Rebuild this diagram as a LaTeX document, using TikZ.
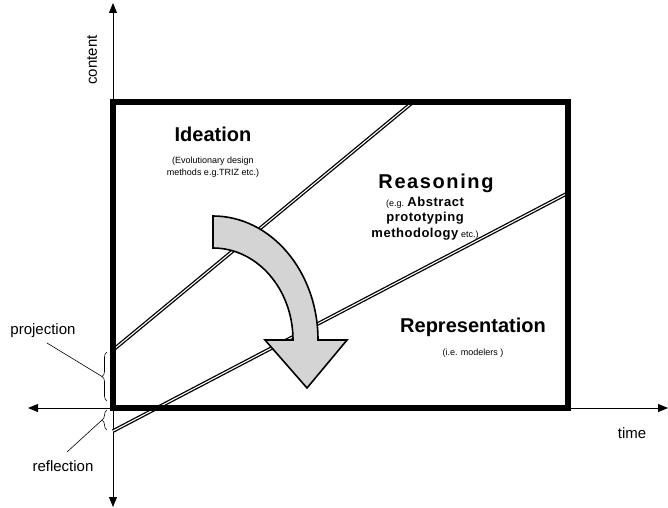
\documentclass[tikz,border=0pt]{standalone}
\usepackage{fontspec}
\setmainfont{Liberation Sans}
\usetikzlibrary{arrows.meta,decorations.pathreplacing}

\newcommand{\bigtext}{\fontsize{20}{24}\selectfont\bfseries}
\newcommand{\smalltext}{\fontsize{9}{13}\selectfont}
\newcommand{\boldsub}{\fontsize{13}{17}\selectfont\bfseries\addfontfeature{LetterSpace=4}}
\newcommand{\axistext}{\fontsize{15}{18}\selectfont}

\begin{document}
\begin{tikzpicture}[x=1pt, y=1pt,
    axis/.style={line width=0.9pt, -{Triangle[length=10pt,width=8pt]}},
    layer/.style={double, line width=1.3pt, double distance=1.1pt},
    bracket/.style={decorate, decoration={brace, amplitude=5pt}, line width=0.6pt},
    title/.style={align=center, inner sep=0pt}]
                \useasboundingbox (0,0) rectangle (668,507);
                % axes
                \coordinate (origin) at (113,99);
                \draw[axis] (origin) -- (113,504) coordinate (ytip);
                \draw[axis] (113,99) -- (113,0);
                \draw[axis] (origin) -- (668,99);
                \draw[axis] (origin) -- (28,99);
                \node[rotate=90, inner sep=0pt] (content) at (92,447) {\axistext content};
                \node[inner sep=0pt] (time) at (632,74) {\axistext time};
                % layer borders
                \draw[layer] (113,157) -- (413,405);
                \draw[layer] (113,76) -- (568,314);
                % frame
                \draw[line width=6pt] (113,99) rectangle (568,405);
                % braces
                \draw[bracket] (107,106) -- (107,155) coordinate[midway, xshift=-5pt] (projtip);
                \draw[bracket] (107,77) -- (107,97) coordinate[midway, xshift=-5pt] (refltip);
                \node[inner sep=0pt] (projection) at (43,176) {\axistext projection};
                \node[inner sep=0pt] (reflection) at (63,41) {\axistext reflection};
                \draw[line width=0.6pt] (47,164) -- (projtip);
                \draw[line width=0.6pt] (67,55) -- (refltip);
                % layer names
                \node[title] (ideation) at (213,373) {\bigtext Ideation};
                \node[title] (ideasub) at (213,340) {\smalltext (Evolutionary design\\ \smalltext methods e.g.TRIZ etc.)};
                \node[title] (reasoning) at (436,324) {\bigtext\addfontfeature{LetterSpace=8} Reasoning};
                \node[title] (reasonsub) at (425,288) {\smalltext (e.g. {\boldsub Abstract}\\[3pt]
                    {\boldsub prototyping}\\[3pt]
                    {\boldsub methodology} \smalltext etc.)};
                \node[title] (representation) at (473,180) {\bigtext Representation};
                \node[title] (represub) at (473,154) {\smalltext (i.e. modelers )};
                % curved arrow
                \filldraw[fill=black!17, line width=1.6pt, line join=miter]
                    (213,291) arc[start angle=90, end angle=0, x radius=105pt, y radius=124pt]
                    -- (347,167) -- (307,119) -- (265,167) -- (293,167)
                    arc[start angle=0, end angle=90, x radius=80pt, y radius=92pt] -- cycle;
            \end{tikzpicture}
\end{document}
